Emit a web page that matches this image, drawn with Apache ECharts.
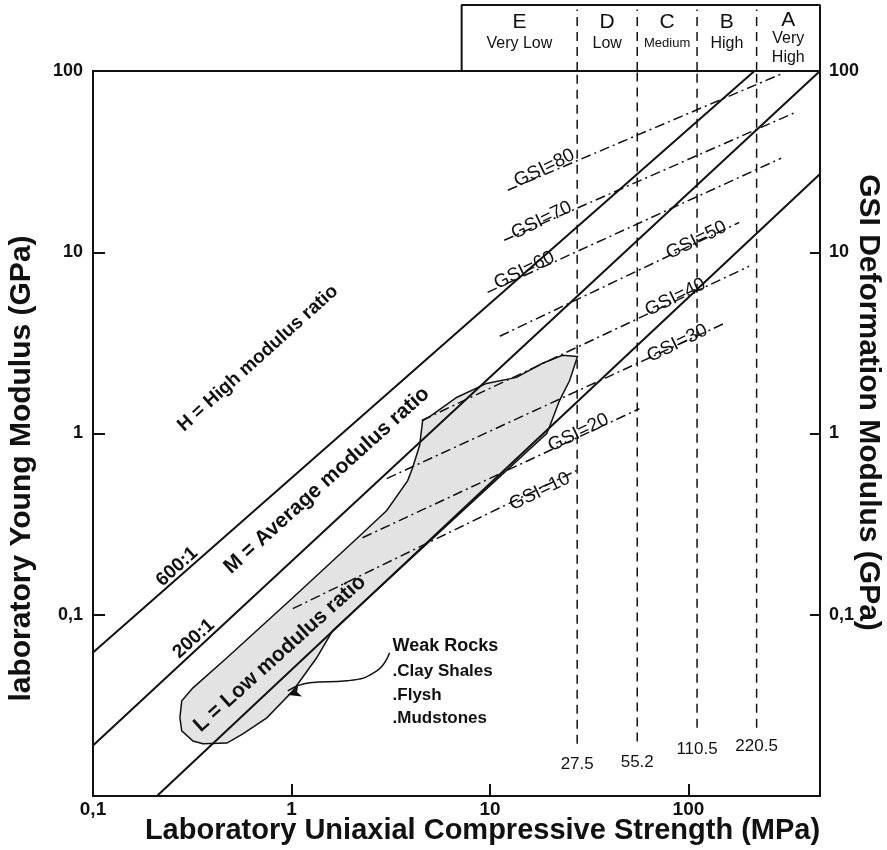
<!DOCTYPE html>
<html><head><meta charset="utf-8">
<script src="https://cdn.jsdelivr.net/npm/echarts@6/dist/echarts.min.js"></script>
<style>html,body{margin:0;padding:0;background:#fff}#c{width:887px;height:850px}</style>
</head><body><div id="c"></div>
<script>
// ---- axes ----
const xTickValues = [0.1, 1, 10, 100];
const xTickLabels = ['0,1', '1', '10', '100'];
const yTickValues = [0.1, 1, 10, 100];
const yTickLabels = ['0,1', '1', '10', '100'];
const xRange = [0.1, 460];
const yRange = [0.01, 100];

// ---- modulus ratio lines (UCS MPa, E GPa) ----
const lineH = [[0.1, 0.062], [215, 100]];
const lineM = [[0.1, 0.019], [460, 100]];
const lineL = [[0.21, 0.01], [460, 27]];
const ratioLabels = ['H = High modulus ratio', 'M = Average modulus ratio', 'L = Low modulus ratio', '600:1', '200:1'];
const ratioLabelAt = [[0.677, 2.60], [1.505, 0.55], [0.873, 0.0609], [0.265, 0.184], [0.322, 0.0737]];

// ---- GSI deformation modulus lines ----
const gsiNames = ['GSI=10', 'GSI=20', 'GSI=30', 'GSI=40', 'GSI=50', 'GSI=60', 'GSI=70', 'GSI=80'];
const gsiLines = [
  [[1.015, 0.108], [27.3, 0.625]],
  [[2.28, 0.266], [56.6, 1.37]],
  [[3.02, 0.564], [151.6, 4.05]],
  [[4.53, 1.18], [202, 8.37]],
  [[11.2, 3.44], [180, 14.6]],
  [[9.73, 6.01], [293, 33.0]],
  [[11.8, 11.65], [349, 59.4]],
  [[12.3, 22.0], [293, 96.2]]
];
const gsiLabelAt = [[17.8, 0.478], [27.9, 1.01], [87.9, 3.14], [85.9, 5.64], [109.6, 11.65], [14.9, 7.95], [18.2, 15.0], [18.8, 29.1]];

// ---- strength classes ----
const strengthBounds = [27.5, 55.2, 110.5, 220.5];
const strengthBoundLabels = ['27.5', '55.2', '110.5', '220.5'];
const strengthLineBottom = [0.0194, 0.020, 0.0238, 0.0238];
const strengthLabelAt = [0.0150, 0.0154, 0.0180, 0.0187];
const classBox = [7.2, 460];
const classLetters = ['E', 'D', 'C', 'B', 'A'];
const classNames = ['Very Low', 'Low', 'Medium', 'High', 'Very\nHigh'];

// ---- weak rocks zone ----
const weakRocks = [
  [27.6, 2.66], [23.2, 2.70], [18.4, 2.44], [13.6, 2.04], [9.61, 1.89], [6.79, 1.58], [4.97, 1.24], [4.58, 1.18],
  [4.42, 0.858], [4.08, 0.649], [3.85, 0.55], [3.02, 0.376], [2.21, 0.273], [1.015, 0.124], [0.473, 0.0579],
  [0.319, 0.0395], [0.28, 0.0335], [0.274, 0.027], [0.28, 0.0229], [0.319, 0.0201], [0.358, 0.0194], [0.473, 0.0196],
  [0.569, 0.022], [0.751, 0.027], [1.015, 0.038], [1.34, 0.0579], [1.61, 0.0816], [19.3, 1.0], [19.9, 1.08],
  [22.4, 1.52], [25.2, 1.96]
];
const weakRockText = ['Weak Rocks', '.Clay Shales', '.Flysh', '.Mudstones'];
const weakRockTextAt = [[3.23, 0.0674], [3.23, 0.049], [3.23, 0.0361], [3.23, 0.027]];
const arrowPath = [[3.12, 0.0617], [2.69, 0.049], [1.90, 0.0432], [1.236, 0.0421], [0.958, 0.038]];

// ---- helpers ----
function tickFmt(vals, labs) {
  return function (v) {
    const i = vals.findIndex(t => Math.abs(Math.log10(t) - Math.log10(v)) < 1e-6);
    return i >= 0 ? labs[i] : '';
  };
}
const INK = '#111';
const FONT = 'Liberation Sans, Arial, sans-serif';
const plainLabel = { show: true, position: 'inside', formatter: '{b}', color: INK, fontFamily: FONT,
  textBorderWidth: 0, textShadowBlur: 0, opacity: 1 };
function labelSeries(xi, yi, data, extra) {
  return { type: 'scatter', xAxisIndex: xi, yAxisIndex: yi, symbolSize: 0, silent: true, z: 10,
    itemStyle: { opacity: 1, color: INK }, emphasis: { disabled: true },
    data: data, label: Object.assign({}, plainLabel, extra) };
}

const series = [];
series.push({
  type: 'custom', xAxisIndex: 0, yAxisIndex: 0, z: 1, silent: true,
  data: [[1, 1]],
  renderItem: (params, api) => ({
    type: 'polygon',
    shape: { points: weakRocks.map(p => api.coord(p)) },
    style: { fill: '#e3e3e3', stroke: INK, lineWidth: 1.5 }
  })
});
[lineH, lineM, lineL].forEach(d => series.push({
  type: 'line', xAxisIndex: 0, yAxisIndex: 0, data: d, symbol: 'none', z: 4, silent: true,
  lineStyle: { color: INK, width: 2 }
}));
// arrow from the weak-rocks note to the zone
series.push({ type: 'line', xAxisIndex: 0, yAxisIndex: 0, data: arrowPath, smooth: 0.5, symbol: 'none', z: 5, silent: true,
  lineStyle: { color: INK, width: 1.5 } });
series.push({ type: 'scatter', xAxisIndex: 0, yAxisIndex: 0, silent: true, z: 6,
  data: [arrowPath[arrowPath.length - 1]], symbol: 'arrow', symbolSize: [9, 13], symbolRotate: 108,
  symbolOffset: [0, 4], itemStyle: { color: INK, opacity: 1 }, emphasis: { disabled: true } });
gsiLines.forEach(d => series.push({
  type: 'line', xAxisIndex: 0, yAxisIndex: 0, data: d, symbol: 'none', z: 3, silent: true,
  lineStyle: { color: INK, width: 1.5, type: [10, 4, 2, 4] }
}));
strengthBounds.forEach((x, i) => {
  series.push({ type: 'line', xAxisIndex: 0, yAxisIndex: 0, data: [[x, strengthLineBottom[i]], [x, yRange[1]]],
    symbol: 'none', z: 2, silent: true, lineStyle: { color: INK, width: 1.5, type: [9, 6] } });
  series.push({ type: 'line', xAxisIndex: 1, yAxisIndex: 2, data: [[x, 0], [x, 0.93]],
    symbol: 'none', z: 2, silent: true, lineStyle: { color: INK, width: 1.5, type: [9, 6] } });
});
// class box outline
series.push({ type: 'line', xAxisIndex: 1, yAxisIndex: 2, clip: false, symbol: 'none', silent: true,
  data: [[classBox[0], 0], [classBox[0], 1], [classBox[1], 1], [classBox[1], 0]],
  lineStyle: { color: INK, width: 2 } });
// class labels
const bounds = [classBox[0]].concat(strengthBounds, [classBox[1]]);
const classMid = classLetters.map((c, i) => Math.sqrt(bounds[i] * bounds[i + 1]));
series.push(labelSeries(1, 2,
  classLetters.map((c, i) => ({ value: [classMid[i], i === 4 ? 0.77 : 0.74], name: c })),
  { fontSize: 21 }));
series.push(labelSeries(1, 2,
  classNames.map((c, i) => ({ value: [classMid[i], i === 4 ? 0.35 : 0.42], name: c,
    label: i === 2 ? { fontSize: 13 } : {} })),
  { fontSize: 16, lineHeight: 19 }));
// strength bound labels
series.push(labelSeries(0, 0,
  strengthBounds.map((x, i) => ({ value: [x, strengthLabelAt[i]], name: strengthBoundLabels[i] })),
  { fontSize: 17 }));
// GSI labels
series.push(labelSeries(0, 0,
  gsiNames.map((n, i) => ({ value: gsiLabelAt[i], name: n })),
  { fontSize: 19, rotate: 26 }));
// ratio labels
series.push(labelSeries(0, 0,
  ratioLabels.map((n, i) => ({ value: ratioLabelAt[i], name: n, label: (i === 0 || i >= 3) ? { fontSize: 19 } : {} })),
  { fontSize: 21, fontWeight: 'bold', rotate: 42 }));
// weak rocks text
series.push(labelSeries(0, 0,
  weakRockText.map((n, i) => ({ value: weakRockTextAt[i], name: n, label: i === 0 ? { fontSize: 18 } : {} })),
  { align: 'left', verticalAlign: 'middle', fontSize: 17, fontWeight: 'bold' }));

const option = {
  animation: false,
  backgroundColor: '#fff',
  textStyle: { fontFamily: FONT },
  grid: [
    { left: 93, right: 67, top: 71, bottom: 54, show: true, borderColor: INK, borderWidth: 2,
      backgroundColor: 'transparent', containLabel: false, outerBoundsMode: 'none' },
    { left: 93, right: 67, top: 5, height: 66, containLabel: false, outerBoundsMode: 'none' }
  ],
  xAxis: [
    { type: 'log', gridIndex: 0, min: xRange[0], max: xRange[1], logBase: 10,
      name: 'Laboratory Uniaxial Compressive Strength (MPa)', nameLocation: 'middle', nameGap: 20, nameMoveOverlap: false,
      nameTextStyle: { fontSize: 29, fontWeight: 'bold', color: INK, padding: [0, 0, 0, 52] },
      axisLine: { show: true, lineStyle: { color: INK, width: 2 } },
      axisTick: { show: true, inside: true, length: 12, lineStyle: { color: INK, width: 2 } },
      minorTick: { show: false }, splitLine: { show: false }, minorSplitLine: { show: false },
      axisLabel: { show: true, margin: 4, fontSize: 19, fontWeight: 'bold', color: INK, showMinLabel: true, showMaxLabel: true,
        formatter: tickFmt(xTickValues, xTickLabels) } },
    { type: 'log', gridIndex: 1, min: xRange[0], max: xRange[1], logBase: 10, show: false }
  ],
  yAxis: [
    { type: 'log', gridIndex: 0, min: yRange[0], max: yRange[1], logBase: 10, position: 'left',
      name: 'laboratory Young Modulus (GPa)', nameLocation: 'middle', nameGap: 56, nameRotate: 90, nameMoveOverlap: false,
      nameTextStyle: { fontSize: 30, fontWeight: 'bold', color: INK, padding: [0, 70, 0, 0] },
      axisLine: { show: true, lineStyle: { color: INK, width: 2 } },
      axisTick: { show: true, inside: true, length: 12, lineStyle: { color: INK, width: 2 } },
      splitLine: { show: false }, minorTick: { show: false },
      axisLabel: { show: true, margin: 10, fontSize: 18, fontWeight: 'bold', color: INK, showMinLabel: true, showMaxLabel: true,
        formatter: tickFmt(yTickValues, yTickLabels) } },
    { type: 'log', gridIndex: 0, min: yRange[0], max: yRange[1], logBase: 10, position: 'right',
      name: 'GSI Deformation Modulus (GPa)', nameLocation: 'middle', nameGap: 33, nameRotate: -90, nameMoveOverlap: false,
      nameTextStyle: { fontSize: 30, fontWeight: 'bold', color: INK, padding: [0, 62, 0, 0] },
      axisLine: { show: true, lineStyle: { color: INK, width: 2 } },
      axisTick: { show: true, inside: true, length: 10, lineStyle: { color: INK, width: 2 } },
      splitLine: { show: false }, minorTick: { show: false },
      axisLabel: { show: true, margin: 9, fontSize: 18, fontWeight: 'bold', color: INK, showMinLabel: true, showMaxLabel: true,
        formatter: tickFmt(yTickValues, yTickLabels) } },
    { type: 'value', gridIndex: 1, min: 0, max: 1, show: false }
  ],
  series: series
};
const chart = echarts.init(document.getElementById('c'), null, { renderer: 'canvas' });
chart.setOption(option);
</script></body></html>
